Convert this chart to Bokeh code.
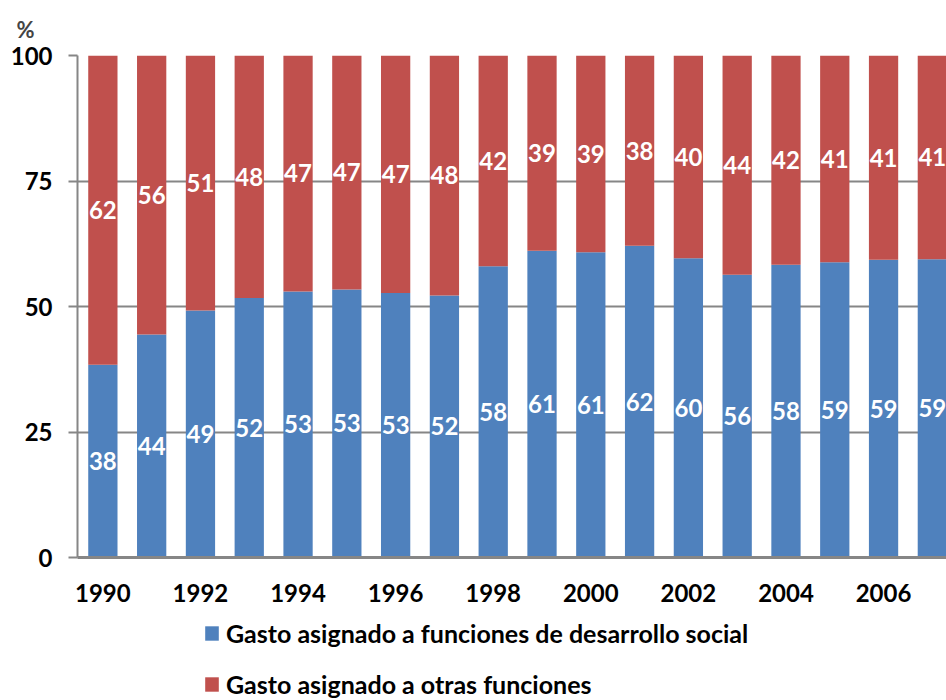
from bokeh.plotting import figure
from bokeh.models import ColumnDataSource, FixedTicker, Legend, LegendItem, Range1d
from bokeh.layouts import column
from bokeh.embed import file_html
from bokeh.resources import INLINE
from bokeh.core.properties import value

# ---------------- data ----------------
years = list(range(1990, 2008))
social = [38.4, 44.4, 49.2, 51.7, 53.0, 53.4, 52.7, 52.2, 58.0, 61.1,
          60.8, 62.1, 59.6, 56.3, 58.3, 58.8, 59.3, 59.4]
otras = [61.6, 55.6, 50.8, 48.3, 47.0, 46.6, 47.3, 47.8, 42.0, 38.9,
         39.2, 37.9, 40.4, 43.7, 41.7, 41.2, 40.7, 40.6]
tick_years = [1990, 1992, 1994, 1996, 1998, 2000, 2002, 2004, 2006]
tick_labels = ["1990", "1992", "1994", "1996", "1998", "2000", "2002", "2004", "2006"]
y_ticks = [0, 25, 50, 75, 100]
series_names = ["Gasto asignado a funciones de desarrollo social",
                "Gasto asignado a otras funciones"]
colors = ["#4F81BD", "#C0504D"]
unit_label = "%"

FONT = "Lato"
GRID = "#868686"

src = ColumnDataSource(dict(
    year=years,
    social=social,
    otras=otras,
    top_red=[s + o for s, o in zip(social, otras)],
    y_social=[s / 2 for s in social],
    y_otras=[s + o / 2 for s, o in zip(social, otras)],
    lab_social=[str(int(round(s))) for s in social],
    lab_otras=[str(int(round(o))) for o in otras],
))

p = figure(width=946, height=612,
           x_range=Range1d(1989.48, 2007.29), y_range=Range1d(0, 100),
           output_backend="svg", toolbar_location=None,
           min_border_left=77, min_border_right=0, min_border_top=55,
           min_border_bottom=55)

p.outline_line_color = None
p.background_fill_color = "white"

# title "%"
p.title.text = unit_label
p.title.align = "left"
p.title.offset = -61
p.title.standoff = 26
p.title.text_font = FONT
p.title.text_font_size = "22px"
p.title.text_font_style = "bold"

# grid
p.xgrid.grid_line_color = None
p.ygrid.ticker = FixedTicker(ticks=y_ticks)
p.ygrid.grid_line_color = GRID
p.ygrid.grid_line_width = 2

# y axis
p.yaxis.ticker = FixedTicker(ticks=y_ticks)
p.yaxis.axis_line_color = GRID
p.yaxis.axis_line_width = 2
p.yaxis.major_tick_line_color = GRID
p.yaxis.major_tick_line_width = 2
p.yaxis.major_tick_out = 9
p.yaxis.major_tick_in = 0
p.yaxis.minor_tick_line_color = None
p.yaxis.major_label_standoff = 16
p.yaxis.major_label_text_font = FONT
p.yaxis.major_label_text_font_size = "24px"
p.yaxis.major_label_text_font_style = "bold"
p.yaxis.major_label_text_color = "black"

# x axis
p.xaxis.ticker = FixedTicker(ticks=tick_years)
p.xaxis.major_label_overrides = {y: l for y, l in zip(tick_years, tick_labels)}
p.xaxis.axis_line_color = GRID
p.xaxis.axis_line_width = 3
p.xaxis.major_tick_line_color = None
p.xaxis.minor_tick_line_color = None
p.xaxis.major_tick_out = 0
p.xaxis.major_tick_in = 0
p.xaxis.major_label_standoff = 26
p.xaxis.major_label_text_font = FONT
p.xaxis.major_label_text_font_size = "24px"
p.xaxis.major_label_text_font_style = "bold"
p.xaxis.major_label_text_color = "black"

# bars
p.vbar(x="year", width=0.6, bottom=0, top="social", source=src,
       fill_color=colors[0], line_color=None)
p.vbar(x="year", width=0.6, bottom="social", top="top_red", source=src,
       fill_color=colors[1], line_color=None)

# data labels
for ycol, tcol in (("y_social", "lab_social"), ("y_otras", "lab_otras")):
    p.text(x="year", y=ycol, text=tcol, source=src,
           text_color="white", text_font=value(FONT), text_font_size="24px",
           text_font_style="bold", text_align="center", text_baseline="middle")

# ---------------- legend strip below ----------------
# the legend's swatches come from the same bar series, drawn here out of view
lg = figure(width=946, height=88, x_range=Range1d(0, 1), y_range=Range1d(0, 1),
            output_backend="svg", toolbar_location=None,
            x_axis_type=None, y_axis_type=None,
            min_border_left=0, min_border_right=0, min_border_top=0,
            min_border_bottom=0)
lg.outline_line_color = None
lg.xgrid.grid_line_color = None
lg.ygrid.grid_line_color = None
leg_renderers = [
    lg.vbar(x="year", width=0.6, bottom=0, top="social", source=src,
            fill_color=colors[0], line_color=None),
    lg.vbar(x="year", width=0.6, bottom="social", top="top_red", source=src,
            fill_color=colors[1], line_color=None),
]

legend = Legend(items=[LegendItem(label=n, renderers=[r])
                       for n, r in zip(series_names, leg_renderers)],
                orientation="vertical", location=(126, 1))
legend.label_text_font = FONT
legend.label_text_font_size = "25px"
legend.label_text_font_style = "bold"
legend.label_text_color = "black"
legend.glyph_width = 17
legend.glyph_height = 18
legend.label_height = 18
legend.label_standoff = 6
legend.spacing = 21
legend.padding = 0
legend.margin = 0
legend.border_line_color = None
legend.background_fill_alpha = 0
lg.add_layout(legend, "center")

layout = column(p, lg, spacing=0)
open("out.html", "w").write(file_html(layout, INLINE))
